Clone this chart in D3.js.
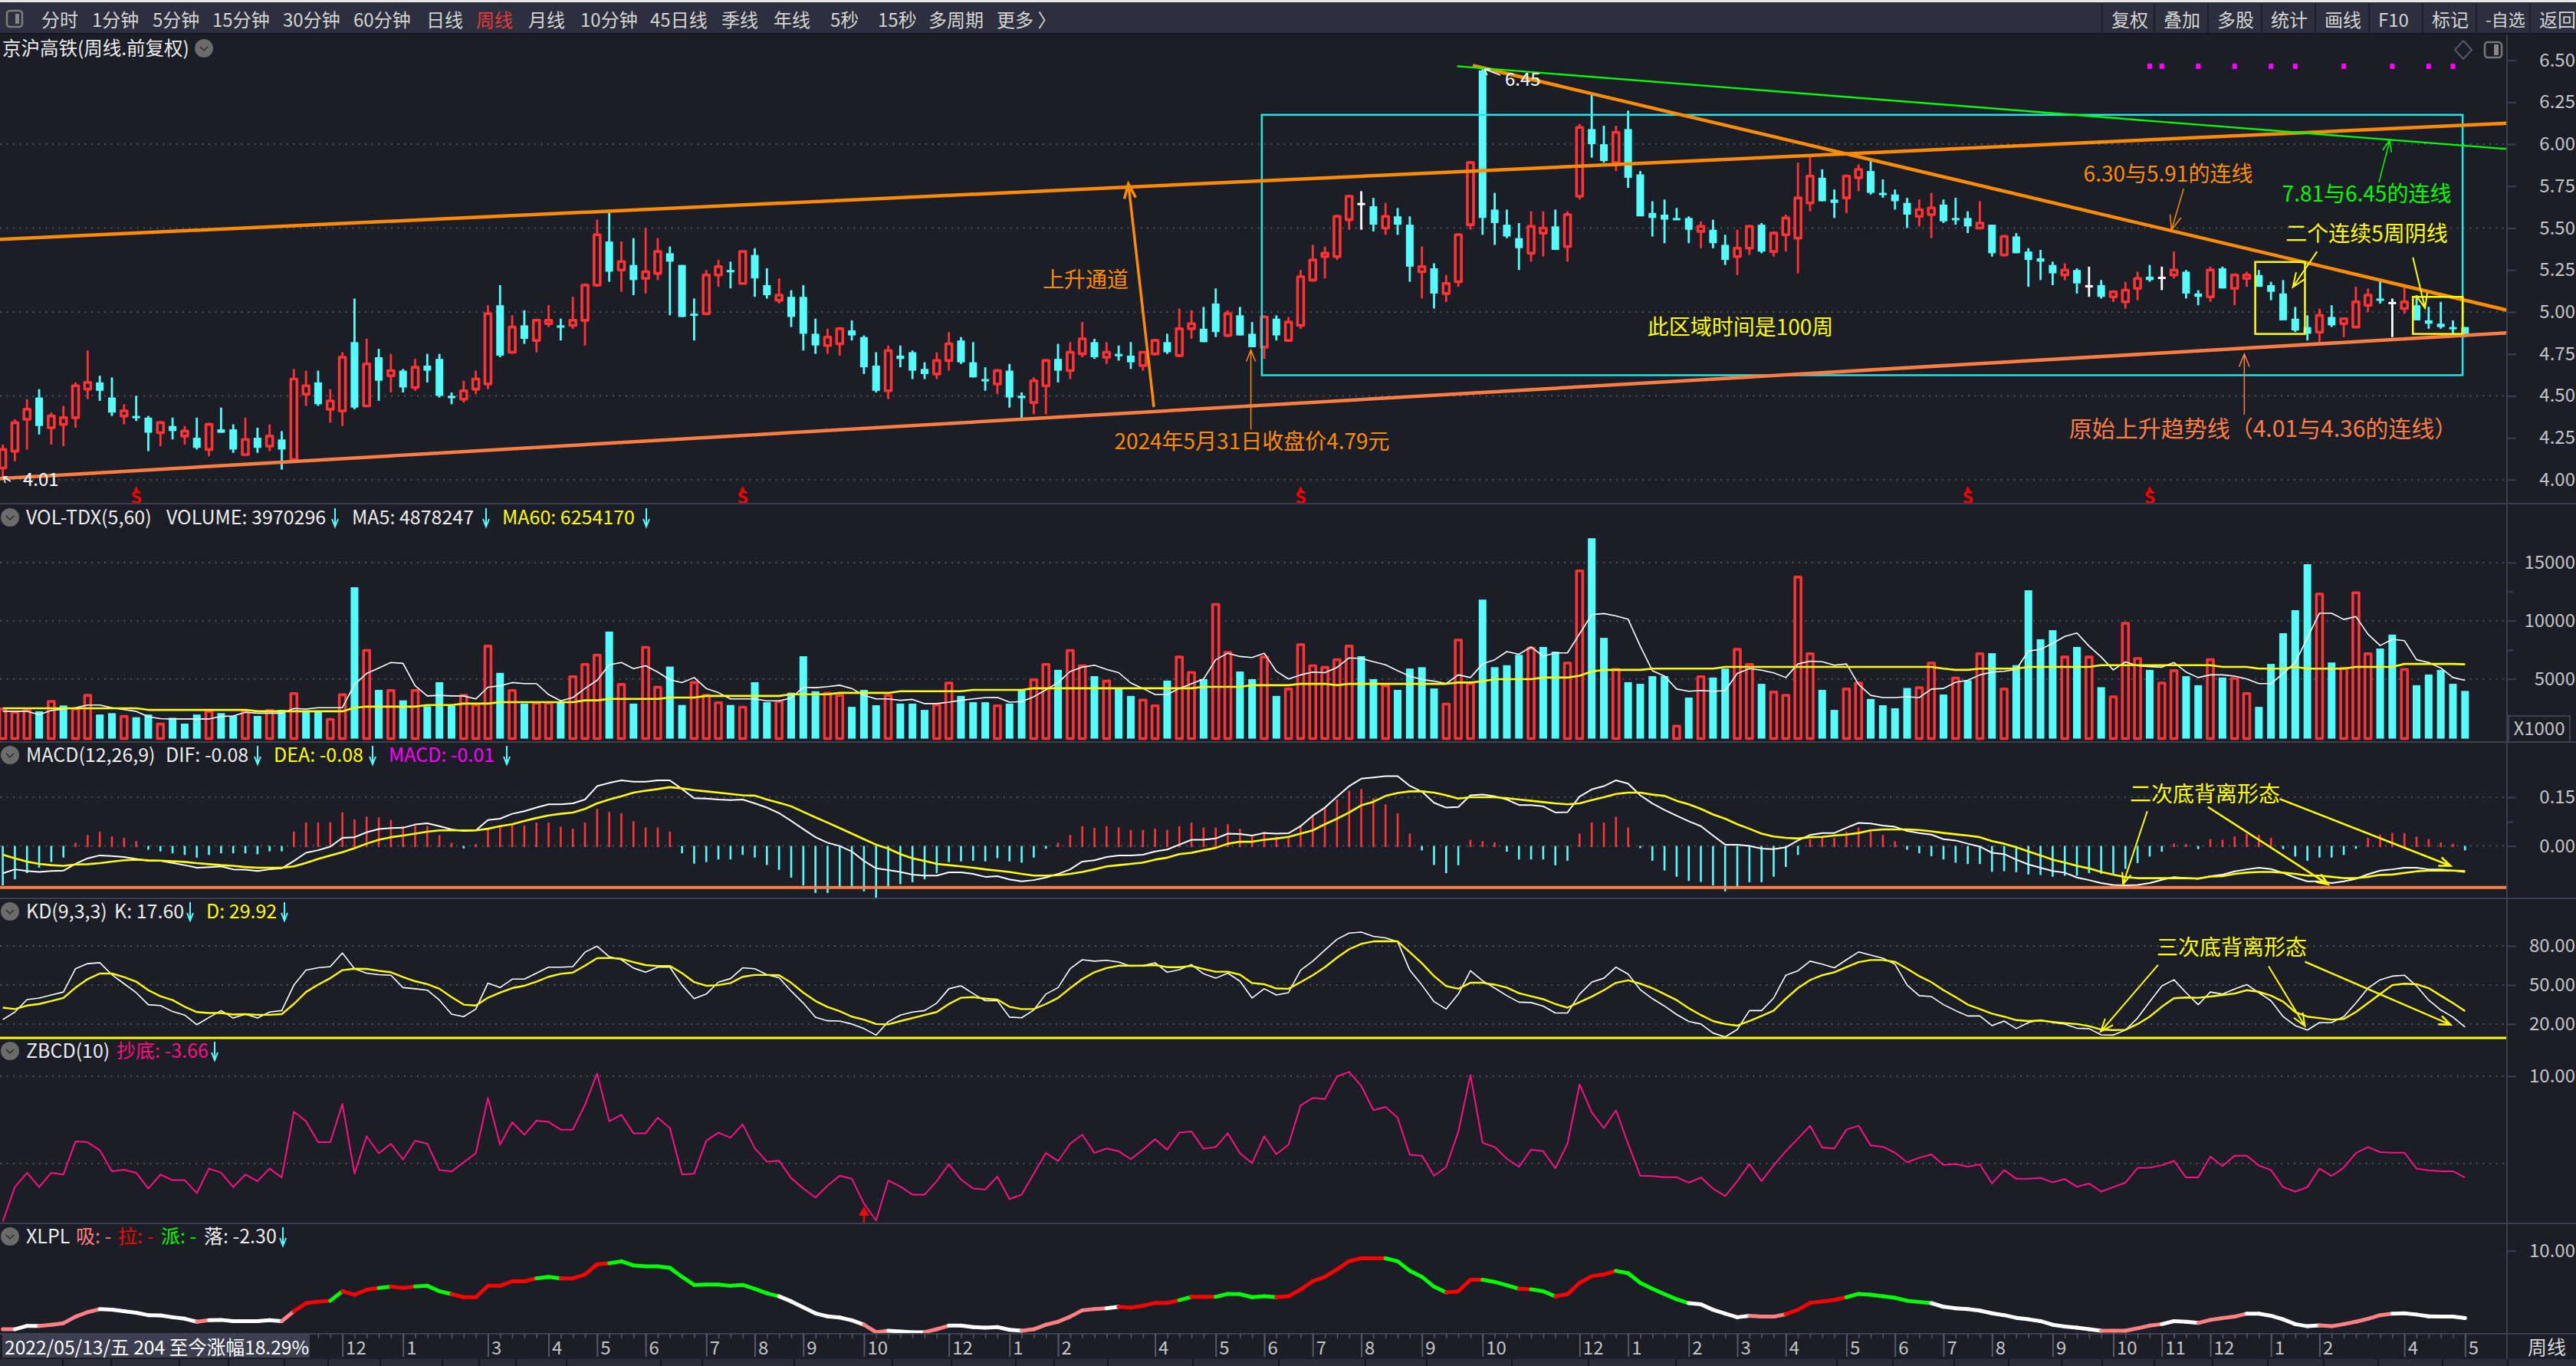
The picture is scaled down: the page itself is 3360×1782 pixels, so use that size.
<!DOCTYPE html>
<html>
<head>
<meta charset="utf-8">
<script src="https://cdn.jsdelivr.net/npm/d3@7"></script>
<style>
  html, body { margin: 0; padding: 0; background: #1b1e27; overflow: hidden; }
  svg { display: block; }
  text { font-family: "Noto Sans CJK SC", "Noto Sans", sans-serif; dominant-baseline: central; }
</style>
</head>
<body>
<div id="chart"></div>
<script>
// weekly bars, 2022/05/13 onward
const open = [
  4.07,4.17,4.36,4.49,4.31,4.33,4.37,4.54,4.58,4.49,
  4.38,4.38,4.37,4.28,4.32,4.26,4.25,4.18,4.30,4.30,
  4.15,4.25,4.20,4.24,4.12,4.51,4.58,4.42,4.41,4.82,
  4.44,4.73,4.62,4.65,4.55,4.68,4.72,4.50,4.48,4.54,
  4.57,5.04,4.76,4.92,4.83,4.93,4.92,4.92,4.95,5.16,
  5.42,5.25,5.28,5.20,5.23,5.35,5.28,4.99,4.99,5.22,
  5.25,5.17,5.34,5.16,5.07,5.09,5.09,4.87,4.80,4.81,
  4.89,4.85,4.68,4.53,4.74,4.76,4.66,4.63,4.71,4.83,
  4.70,4.60,4.57,4.65,4.50,4.46,4.56,4.72,4.65,4.75,
  4.82,4.73,4.75,4.74,4.68,4.75,4.82,4.74,4.90,4.90,
  5.05,4.86,4.98,4.87,4.79,4.96,4.83,4.92,5.19,5.33,
  5.33,5.55,5.65,5.63,5.50,5.57,5.52,5.24,5.26,5.11,
  5.18,5.52,6.44,5.61,5.52,5.44,5.35,5.47,5.51,5.39,
  5.69,6.09,6.00,5.89,6.09,5.82,5.59,5.58,5.56,5.56,
  5.48,5.49,5.40,5.33,5.38,5.52,5.36,5.46,5.44,5.65,
  5.80,5.67,5.68,5.80,5.84,5.71,5.70,5.65,5.57,5.58,
  5.64,5.56,5.56,5.50,5.52,5.34,5.45,5.36,5.32,5.28,
  5.22,5.25,5.16,5.16,5.09,5.06,5.14,5.21,5.21,5.22,
  5.24,5.11,5.09,5.26,5.14,5.20,5.22,5.16,5.11,4.96,
  4.91,4.88,4.97,4.93,4.91,5.04,5.08,5.06,5.02,5.04,
  4.95,4.93,4.91,4.91];
const high = [
  4.21,4.36,4.48,4.54,4.40,4.44,4.58,4.77,4.62,4.61,
  4.45,4.50,4.38,4.35,4.37,4.32,4.37,4.34,4.43,4.33,
  4.37,4.31,4.33,4.29,4.66,4.65,4.65,4.54,4.76,5.08,
  4.84,4.78,4.75,4.66,4.72,4.75,4.75,4.52,4.59,4.65,
  5.04,5.16,4.98,5.01,4.96,5.04,4.96,5.09,5.17,5.55,
  5.59,5.42,5.44,5.50,5.44,5.39,5.28,5.08,5.25,5.31,
  5.30,5.36,5.38,5.26,5.20,5.13,5.16,4.96,4.90,4.91,
  4.95,4.86,4.76,4.80,4.80,4.77,4.70,4.76,4.88,4.85,
  4.82,4.67,4.66,4.69,4.52,4.61,4.72,4.81,4.82,4.94,
  4.84,4.82,4.80,4.82,4.76,4.84,4.87,5.02,5.01,5.03,
  5.14,5.01,5.03,4.94,4.98,4.98,4.97,5.25,5.40,5.39,
  5.58,5.70,5.72,5.68,5.65,5.62,5.57,5.39,5.29,5.22,
  5.47,5.90,6.45,5.71,5.61,5.53,5.60,5.60,5.61,5.60,
  6.12,6.30,6.11,6.11,6.20,5.84,5.66,5.67,5.62,5.57,
  5.54,5.55,5.46,5.49,5.52,5.53,5.48,5.58,5.89,5.93,
  5.85,5.73,5.82,5.88,5.91,5.79,5.73,5.68,5.67,5.71,
  5.67,5.68,5.60,5.66,5.52,5.46,5.47,5.38,5.37,5.30,
  5.29,5.26,5.27,5.19,5.13,5.18,5.24,5.28,5.27,5.36,
  5.25,5.13,5.27,5.27,5.23,5.24,5.25,5.18,5.19,5.03,
  4.98,5.02,5.04,4.96,5.15,5.14,5.19,5.08,5.15,5.10,
  5.03,5.06,4.95,4.91];
const low = [
  4.01,4.11,4.18,4.27,4.21,4.20,4.31,4.48,4.47,4.38,
  4.33,4.35,4.17,4.20,4.24,4.21,4.18,4.14,4.28,4.16,
  4.15,4.16,4.17,4.06,4.11,4.44,4.44,4.34,4.32,4.42,
  4.44,4.47,4.52,4.52,4.53,4.58,4.49,4.45,4.46,4.51,
  4.54,4.73,4.75,4.81,4.76,4.91,4.83,4.90,4.80,5.15,
  5.18,5.12,5.10,5.11,5.19,4.98,4.97,4.83,4.98,5.15,
  5.14,5.17,5.09,5.08,5.05,4.91,4.77,4.75,4.75,4.74,
  4.83,4.63,4.52,4.48,4.67,4.60,4.60,4.60,4.65,4.69,
  4.61,4.53,4.51,4.43,4.36,4.39,4.39,4.58,4.60,4.73,
  4.72,4.69,4.71,4.66,4.65,4.74,4.75,4.73,4.84,4.82,
  4.85,4.85,4.86,4.79,4.72,4.83,4.83,4.90,5.18,5.20,
  5.31,5.49,5.49,5.48,5.46,5.46,5.18,5.08,5.02,5.06,
  5.15,5.49,5.46,5.40,5.44,5.25,5.30,5.33,5.37,5.30,
  5.67,5.92,5.89,5.84,5.74,5.57,5.45,5.41,5.55,5.41,
  5.38,5.38,5.28,5.22,5.34,5.35,5.33,5.36,5.23,5.60,
  5.66,5.56,5.59,5.72,5.70,5.68,5.61,5.50,5.51,5.44,
  5.53,5.52,5.47,5.50,5.33,5.33,5.35,5.15,5.19,5.16,
  5.19,5.11,5.09,5.08,5.06,5.02,5.07,5.18,5.13,5.20,
  5.08,5.04,5.06,5.14,5.04,5.15,5.15,5.07,4.95,4.88,
  4.83,4.82,4.91,4.85,4.91,5.00,5.05,4.85,4.99,4.95,
  4.90,4.90,4.87,4.85];
const close = [
  4.18,4.34,4.42,4.32,4.38,4.37,4.56,4.58,4.53,4.40,
  4.41,4.37,4.28,4.34,4.29,4.29,4.19,4.33,4.28,4.18,
  4.24,4.19,4.26,4.18,4.60,4.56,4.45,4.47,4.73,4.43,
  4.69,4.59,4.65,4.55,4.67,4.65,4.50,4.49,4.53,4.60,
  4.99,4.74,4.91,4.84,4.95,4.95,4.91,4.95,5.16,5.46,
  5.24,5.30,5.19,5.24,5.36,5.30,4.97,4.98,5.22,5.27,
  5.24,5.36,5.20,5.10,5.10,4.97,4.87,4.80,4.85,4.90,
  4.86,4.67,4.53,4.77,4.72,4.65,4.63,4.71,4.81,4.70,
  4.61,4.59,4.65,4.49,4.49,4.59,4.71,4.65,4.76,4.84,
  4.73,4.76,4.74,4.70,4.76,4.83,4.76,4.90,4.93,4.82,
  4.88,4.99,4.86,4.79,4.97,4.86,4.94,5.21,5.31,5.35,
  5.57,5.69,5.65,5.52,5.57,5.52,5.27,5.27,5.11,5.17,
  5.46,5.89,5.56,5.53,5.45,5.38,5.51,5.50,5.37,5.58,
  6.10,6.00,5.90,6.07,5.80,5.57,5.56,5.55,5.55,5.49,
  5.51,5.41,5.31,5.38,5.51,5.36,5.47,5.56,5.68,5.81,
  5.66,5.65,5.81,5.85,5.71,5.70,5.66,5.58,5.61,5.62,
  5.54,5.55,5.51,5.53,5.35,5.45,5.35,5.31,5.30,5.23,
  5.25,5.17,5.16,5.09,5.12,5.13,5.20,5.19,5.21,5.25,
  5.11,5.09,5.25,5.14,5.22,5.22,5.15,5.12,4.95,4.89,
  4.87,4.98,4.92,4.96,5.06,5.10,5.07,5.06,5.06,4.95,
  4.93,4.91,4.90,4.87];

// volume, x1000
const volume = [
  2410,2130,2290,2220,3070,2720,2410,3590,1940,2060,
  1780,1710,1940,1120,1660,1160,1940,2220,2060,1820,
  2220,1820,2290,2340,3750,2290,2180,1520,3640,12880,
  7450,4060,4010,3160,4010,2650,4720,2690,3590,2760,
  7820,5520,4010,2880,2930,2930,3070,5190,6250,7050,
  9070,4530,2880,7710,4290,6060,2760,4690,3590,2950,
  2760,2580,4720,3000,3050,3820,6950,3940,3780,3590,
  2600,4060,2740,3590,2880,2880,2340,2760,4650,3540,
  3000,3000,2690,2880,4060,4930,6250,5780,7450,6130,
  5240,4810,4180,3540,3190,2690,4860,6880,5560,4980,
  11400,7280,5640,4980,6880,3540,4130,7940,6130,5990,
  6650,7820,6950,4980,4410,4060,5890,6010,4180,2840,
  8340,4600,11820,6010,6180,7070,7640,7750,7350,6360,
  14290,17090,8530,5820,4720,4580,5240,5240,950,3400,
  5190,5120,5890,7540,6250,4580,3870,3590,13750,7160,
  4060,2340,4130,4650,3280,2740,2480,4220,4250,6360,
  3660,5070,4880,7160,7210,4130,6180,12620,8410,9190,
  6880,7750,6880,4290,3470,9780,6760,5780,4650,5710,
  5240,4460,6650,5120,5050,3750,2600,6290,8930,10910,
  14860,12290,6410,5940,12410,7160,7610,8810,5820,4460,
  5380,5780,4580,3970];
const volumeDir =
  "rrrcrcrrcc" + "rccrcccrcc" + "rcrcrccrrc" + "rcrcrcccrr" + "rcrcrrcrrr" +
  "crcrrccrrr" + "crccrcccrr" + "cccrcccrrc" + "ccrccrrcrr" + "crccrrcrrc" +
  "rrccrcrrrr" + "rrccrccccr" + "rrccccrccr" + "rccrccccrc" + "rccrrcrrrr" +
  "ccrrccccrr" + "crcrcrcccc" + "rcrcrrrcrr" + "ccrcrrcccc" + "crcrrrccrc" + "cccc";
const ma5 = [
  2220,2220,2220,1940,2290,2410,2530,2760,2760,2530,
  2360,2220,1750,1590,1560,1560,1560,1560,1780,1820,
  2130,2060,2060,2060,2460,2410,2530,2530,2530,4530,
  5470,5940,6410,6340,4410,3540,3590,3540,3540,3280,
  4290,4410,4690,4600,4600,3660,3120,3400,4180,4880,
  6220,6410,5890,6130,5590,4930,4690,5120,4180,3820,
  3280,3280,3280,3120,3120,3350,4290,4250,4340,4460,
  4180,3590,3280,3280,3160,3240,2880,2880,3000,3160,
  3280,3400,3420,3000,3050,3470,4060,4690,5640,6010,
  6180,5820,5540,4650,4180,3660,3660,4180,4580,5000,
  6650,7210,6930,6840,7210,5660,5000,5350,5590,5540,
  5990,6810,6760,6480,6220,5710,5240,4950,4810,4600,
  5350,5120,6290,6650,7350,7120,7750,6950,7240,7240,
  8880,10530,10620,10410,10130,7820,5710,5240,4130,3940,
  4010,3940,3990,5470,5890,5750,5520,5120,6290,6530,
  6480,6180,6290,4530,3590,3400,3400,3470,3400,4130,
  4180,4720,4880,5350,5590,5660,5820,7400,7540,8060,
  8650,8950,7820,6880,5780,6460,6130,6060,6010,6410,
  5590,5120,5350,5350,5240,5000,4600,4600,5470,6410,
  8530,10650,10650,10110,10370,8840,7870,8410,8290,6650,
  6410,5940,5120,4878];
const ma60 = [
  2480,2480,2480,2480,2480,2480,2480,2480,2480,2480,
  2480,2480,2340,2340,2340,2340,2340,2340,2340,2340,
  2340,2220,2220,2220,2220,2220,2220,2220,2220,2530,
  2620,2620,2620,2620,2620,2760,2760,2760,2880,2880,
  2880,3000,3000,3000,3000,3000,3000,3000,3160,3160,
  3280,3280,3280,3280,3280,3400,3400,3400,3540,3540,
  3540,3540,3540,3540,3540,3680,3680,3680,3680,3800,
  3800,3800,3800,3800,3940,3940,3940,3940,3940,3940,
  4060,4060,4060,4060,4060,4200,4200,4200,4200,4200,
  4200,4200,4200,4200,4200,4200,4200,4200,4200,4320,
  4320,4320,4320,4460,4460,4460,4460,4580,4580,4580,
  4460,4580,4580,4580,4580,4580,4580,4580,4580,4580,
  4690,4690,4800,4980,4980,4980,4980,5120,5120,5120,
  5280,5640,5780,5780,5780,5780,5890,5890,5890,5890,
  5890,5890,6030,6030,6030,6030,6030,6030,6030,6030,
  6030,6030,6030,6030,6030,6030,6030,6030,6030,6030,
  5890,5780,5780,5890,5890,5890,5890,6030,6030,6030,
  6030,6030,6030,6180,6180,6180,6180,6180,6180,6180,
  6180,6180,6180,6030,6030,6030,5890,5890,5890,6030,
  5890,5890,5890,5890,6030,6030,6030,6030,6290,6290,
  6290,6290,6290,6254];

const dif = [
  -.084,-.072,-.077,-.080,-.077,-.076,-.055,-.038,-.029,-.031,
  -.034,-.040,-.046,-.046,-.052,-.059,-.067,-.065,-.063,-.072,
  -.073,-.077,-.072,-.069,-.046,-.021,-.013,-.002,.025,.027,
  .042,.052,.055,.056,.066,.070,.061,.051,.046,.048,
  .080,.084,.099,.107,.118,.128,.128,.131,.143,.184,
  .194,.202,.198,.198,.202,.202,.175,.147,.146,.143,
  .141,.143,.131,.118,.101,.077,.052,.027,.010,0,
  -.017,-.046,-.069,-.074,-.080,-.088,-.091,-.091,-.081,-.081,
  -.086,-.095,-.093,-.103,-.109,-.105,-.097,-.086,-.072,-.048,
  -.044,-.034,-.029,-.029,-.027,-.017,-.011,.004,.019,.019,
  .023,.038,.037,.032,.040,.038,.039,.061,.093,.118,
  .152,.184,.207,.211,.215,.215,.185,.167,.133,.118,
  .120,.156,.158,.153,.143,.126,.126,.122,.103,.104,
  .152,.174,.184,.202,.192,.156,.131,.111,.093,.076,
  .061,.032,.004,.004,0,-.008,-.010,-.004,.017,.034,
  .040,.040,.056,.071,.069,.063,.059,.046,.040,.035,
  .021,.017,.007,-.002,-.021,-.025,-.042,-.057,-.067,-.077,
  -.082,-.097,-.105,-.114,-.120,-.121,-.120,-.114,-.104,-.096,
  -.099,-.101,-.093,-.088,-.078,-.072,-.067,-.071,-.083,-.097,
  -.109,-.109,-.114,-.109,-.101,-.087,-.076,-.072,-.067,-.067,
  -.072,-.072,-.076,-.080];
const dea = [
  -.027,-.038,-.048,-.055,-.059,-.061,-.057,-.056,-.053,-.048,
  -.044,-.042,-.044,-.045,-.047,-.049,-.053,-.056,-.059,-.061,
  -.065,-.067,-.067,-.067,-.063,-.052,-.040,-.029,-.019,-.007,
  .007,.019,.027,.032,.038,.044,.048,.048,.048,.048,
  .053,.061,.067,.077,.086,.094,.099,.103,.114,.131,
  .143,.153,.164,.170,.175,.181,.177,.172,.168,.164,
  .160,.156,.155,.143,.133,.122,.105,.088,.072,.055,
  .038,.021,.004,-.008,-.025,-.038,-.046,-.055,-.059,-.063,
  -.067,-.072,-.076,-.080,-.086,-.091,-.091,-.090,-.086,-.080,
  -.072,-.063,-.059,-.055,-.051,-.042,-.036,-.025,-.021,-.013,
  -.006,.007,.013,.013,.019,.023,.028,.038,.048,.067,
  .084,.103,.125,.136,.154,.163,.168,.168,.164,.156,
  .146,.150,.150,.150,.147,.143,.139,.135,.131,.128,
  .131,.141,.150,.160,.164,.164,.158,.154,.139,.128,
  .114,.097,.084,.067,.053,.038,.029,.025,.023,.027,
  .028,.032,.035,.040,.048,.051,.051,.051,.049,.045,
  .040,.036,.032,.027,.015,.007,-.004,-.017,-.029,-.042,
  -.051,-.061,-.069,-.080,-.088,-.096,-.099,-.099,-.099,-.099,
  -.099,-.100,-.094,-.093,-.086,-.082,-.080,-.080,-.082,-.086,
  -.091,-.091,-.095,-.099,-.099,-.095,-.089,-.088,-.083,-.078,
  -.076,-.076,-.076,-.077];
const macd = [
  -.118,-.099,-.080,-.063,-.046,-.032,.010,.034,.044,.029,
  .025,.015,-.008,-.013,-.019,-.024,-.032,-.024,-.019,-.019,
  -.019,-.022,-.013,-.013,.044,.072,.072,.073,.104,.082,
  .090,.088,.080,.061,.063,.061,.034,.010,-.004,.006,
  .051,.061,.067,.063,.072,.072,.059,.053,.072,.114,
  .105,.101,.076,.057,.057,.044,-.019,-.051,-.046,-.038,
  -.038,-.024,-.032,-.055,-.070,-.094,-.118,-.141,-.141,-.126,
  -.126,-.136,-.156,-.126,-.114,-.108,-.099,-.080,-.046,-.044,
  -.042,-.044,-.034,-.044,-.048,-.032,-.005,.010,.034,.061,
  .056,.061,.057,.049,.049,.053,.049,.061,.072,.057,
  .057,.067,.053,.034,.044,.029,.028,.063,.095,.116,
  .143,.170,.175,.147,.128,.101,.038,-.010,-.055,-.080,
  -.056,.019,.015,.011,-.014,-.038,-.038,-.038,-.056,-.042,
  .038,.072,.072,.090,.057,-.003,-.042,-.072,-.091,-.104,
  -.107,-.118,-.136,-.125,-.108,-.108,-.091,-.061,-.024,.021,
  .025,.025,.044,.057,.044,.034,.015,-.008,-.019,-.028,
  -.038,-.048,-.052,-.052,-.076,-.074,-.077,-.084,-.086,-.091,
  -.088,-.088,-.080,-.082,-.082,-.067,-.049,-.029,-.014,.008,
  .006,-.006,.021,.019,.029,.038,.034,.025,-.006,-.029,
  -.042,-.032,-.032,-.024,-.005,.025,.035,.040,.040,.029,
  .021,.011,.007,-.010];

const kdK = [
  23.4,29.2,38.8,40.0,42.3,44.6,62.5,66.4,67.1,57.9,
  51.0,44.1,34.9,34.2,29.6,26.9,19.5,25.0,30.3,24.6,
  27.6,24.6,29.2,30.3,49.9,61.4,63.2,64.1,74.5,62.5,
  59.1,57.9,57.5,48.0,47.1,46.0,38.4,27.6,25.7,31.5,
  51.5,48.0,54.5,54.5,59.1,63.7,63.7,64.1,75.2,79.8,
  71.7,69.4,63.0,59.8,63.7,63.7,49.9,39.5,43.0,52.2,
  54.9,63.2,62.5,57.9,55.6,45.3,36.1,25.3,22.5,22.3,
  20.0,16.5,11.5,21.8,26.9,29.2,30.3,36.1,47.1,49.4,
  43.4,37.9,37.9,25.3,24.8,30.8,43.0,48.0,62.5,69.4,
  68.3,69.0,67.6,64.4,64.8,67.1,59.8,61.8,65.7,58.6,
  55.2,59.1,52.9,40.0,47.1,42.3,44.1,61.4,68.3,76.8,
  85.1,89.9,90.6,87.4,86.2,83.2,61.4,49.9,37.2,31.5,
  43.0,60.9,53.3,47.6,41.8,36.8,36.5,33.8,28.5,28.5,
  43.0,52.2,55.2,63.7,58.4,46.4,39.5,33.8,27.3,22.0,
  20.0,13.1,10.1,15.8,30.3,30.3,40.0,57.5,60.9,68.3,
  66.0,63.2,69.4,75.4,72.9,70.6,66.0,49.9,41.8,41.1,
  34.9,30.3,26.2,26.2,18.8,22.3,16.5,21.1,23.2,21.1,
  20.0,16.8,16.5,11.7,11.5,15.4,24.6,37.2,49.2,54.0,
  44.1,34.9,44.6,43.0,46.9,50.3,44.1,37.9,25.7,18.8,
  15.4,21.1,21.1,25.7,36.1,47.6,54.0,56.8,57.5,49.2,
  38.4,30.8,25.3,17.6];
const kdD = [
  32.6,31.5,34.2,35.4,37.7,40.0,48.0,54.5,58.8,58.8,
  56.1,52.6,46.0,41.4,38.4,33.3,29.2,28.5,28.5,27.3,
  27.6,27.1,27.1,27.6,35.4,44.6,50.3,55.2,61.4,62.5,
  62.3,60.9,59.8,56.1,52.9,50.6,47.1,40.7,34.9,34.2,
  40.2,44.1,47.6,49.4,52.6,56.3,58.6,59.5,64.8,70.6,
  70.8,70.1,67.6,65.3,64.6,64.6,59.1,52.2,49.4,49.9,
  51.5,56.3,57.7,57.7,57.5,51.7,44.1,37.7,33.1,29.9,
  25.7,23.4,20.0,19.7,22.3,24.6,26.9,29.2,35.4,40.2,
  40.7,39.5,38.8,33.3,31.5,31.5,35.4,40.0,47.6,54.5,
  59.8,63.0,64.8,64.8,64.8,65.3,63.7,63.7,64.6,62.3,
  60.2,60.2,57.9,51.5,50.6,47.3,47.1,52.2,57.5,63.7,
  71.0,77.5,81.6,83.5,83.7,83.5,75.2,66.7,56.8,49.2,
  47.1,51.7,51.7,50.3,48.0,43.7,41.4,39.1,35.4,32.6,
  36.8,41.1,46.0,51.7,53.6,51.0,47.6,43.0,38.4,32.2,
  26.9,22.3,20.0,18.8,22.3,26.2,30.3,39.5,47.6,53.8,
  57.5,59.8,63.7,67.6,69.2,69.2,67.8,62.5,56.8,52.2,
  46.0,40.7,34.9,31.5,28.0,25.7,23.0,22.3,22.7,21.6,
  20.7,20.0,18.4,15.8,15.4,15.6,20.0,25.7,33.3,39.8,
  40.4,40.2,41.1,42.3,43.4,46.0,44.8,41.8,37.2,29.2,
  25.7,24.6,23.4,23.9,29.2,36.1,43.0,49.9,51.0,50.6,
  47.6,41.8,36.1,29.92];

const zbcd = [
  -9.59,-4.95,-3.02,-4.95,-3.02,-3.26,1.21,1.09,0.01,-2.82,
  -2.61,-3.02,-5.15,-3.26,-4.02,-4.02,-5.76,-2.45,-3.02,-4.95,
  -3.26,-4.15,-2.45,-3.66,5.20,3.91,1.09,1.09,6.25,-3.14,
  1.90,-0.40,0.89,-1.24,1.30,0.89,-2.65,-2.86,-1.61,-0.40,
  7.06,0.77,3.79,2.10,3.99,3.83,2.79,2.79,6.13,10.36,
  3.91,4.80,2.30,2.30,4.40,2.99,-3.26,-3.14,1.30,2.38,
  1.70,3.51,0.29,-1.53,-1.40,-3.74,-5.15,-6.36,-4.75,-3.42,
  -3.82,-7.17,-9.46,-4.06,-4.87,-5.96,-5.96,-4.15,-1.85,-3.94,
  -5.15,-5.27,-3.54,-6.56,-5.96,-3.14,-0.36,-1.45,0.89,2.10,
  -0.36,0.25,-0.12,-1.20,0.09,1.50,0.09,2.38,2.54,0.21,
  0.45,2.30,-0.40,-1.73,1.90,-0.52,0.77,6.05,7.06,6.90,
  9.96,10.56,8.67,5.41,5.85,4.40,-0.60,-0.72,-3.42,-2.25,
  2.50,10.16,1.01,0.45,-1.12,-2.21,0.09,-0.12,-2.41,0.89,
  8.87,5.12,2.99,5.41,0.89,-3.42,-3.46,-3.62,-3.62,-4.35,
  -3.66,-5.15,-6.16,-4.15,-1.85,-4.15,-2.01,-0.12,1.58,3.31,
  0.37,0.25,2.79,3.31,0.65,0.49,-0.32,-1.61,-1.00,-0.56,
  -1.97,-1.85,-2.21,-1.89,-4.47,-2.65,-3.82,-3.82,-3.70,-4.31,
  -3.86,-4.91,-4.47,-5.56,-4.95,-4.35,-2.37,-2.33,-2.01,-1.40,
  -3.66,-3.66,-0.84,-2.13,-0.72,-0.72,-2.05,-2.65,-4.95,-5.56,
  -4.95,-2.45,-3.46,-2.33,-0.36,0.45,-0.24,-0.32,-0.32,-2.45,
  -2.69,-2.82,-2.82,-3.66];

const xlpl = [
  -4.32,-4.32,-3.71,-3.71,-3.50,-3.22,-2.02,-1.20,-0.65,-0.76,
  -1.04,-1.31,-1.75,-1.80,-2.13,-2.40,-2.95,-2.68,-2.62,-2.84,
  -2.84,-2.84,-2.68,-2.84,-1.04,0.44,0.71,0.88,2.62,1.97,
  2.90,3.22,3.44,3.22,3.50,3.61,2.62,2.08,1.53,1.53,
  3.61,3.61,4.43,4.43,4.97,5.25,4.97,4.97,5.68,7.54,
  7.71,8.09,7.32,7.16,7.16,6.89,5.25,3.77,3.83,3.83,
  3.61,3.77,3.06,2.24,1.69,0.77,-0.33,-1.42,-1.97,-2.18,
  -2.68,-3.50,-4.86,-4.59,-4.75,-4.86,-4.86,-4.32,-3.66,-3.66,
  -3.93,-4.04,-3.93,-4.42,-4.59,-4.32,-3.50,-2.95,-2.02,-0.87,
  -0.65,-0.49,-0.22,-0.38,-0.05,0.49,0.49,0.98,1.59,1.59,
  1.59,2.13,2.08,1.53,1.69,1.53,1.69,2.95,4.43,5.25,
  6.61,8.09,8.63,8.63,8.63,8.09,6.34,5.25,3.44,2.40,
  2.62,4.70,4.70,4.32,3.72,3.06,2.95,2.62,1.69,2.08,
  4.15,5.36,5.68,6.34,5.90,4.15,3.06,2.08,1.15,0.44,
  0.22,-0.76,-1.47,-2.13,-1.86,-2.02,-2.02,-1.58,-0.76,0.49,
  0.77,1.04,1.53,2.13,1.97,1.69,1.42,0.88,0.66,0.44,
  -0.22,-0.49,-0.65,-0.93,-1.42,-1.75,-2.24,-2.51,-2.84,-3.50,
  -3.82,-4.04,-4.32,-4.59,-4.59,-4.59,-4.15,-3.66,-3.39,-2.84,
  -2.95,-3.17,-2.62,-2.29,-2.02,-1.47,-1.47,-1.86,-2.51,-3.39,
  -3.77,-3.61,-3.77,-3.39,-2.95,-2.40,-1.75,-1.47,-1.42,-1.64,
  -1.97,-2.02,-2.02,-2.30];
// p = 吸, r = 拉, g = 派, w = 落
const xlplState =
  "wpwwpppppw" + "wwwwwwwpww" + "wwwwprrrgr" + "rrgrrgggrr" + "rrrrrggrrr" +
  "rggggggggg" + "gggggwwwww" + "wwppwwwppw" + "wwwwwppppp" + "ppwrrrrrgr" +
  "rgggggrrrr" + "rrrrrggggg" + "rrrgggrggr" + "rrrrgggggg" + "wwwwwppprr" +
  "rrrggggggg" + "wwwwwwwwww" + "wwwwpppppw" + "wwppppwwww" + "wwppppppww" + "wwww";

// month labels on the time axis
const monthBars = [28,33,40,45,49,53,58,62,66,71,78,83,87,95,100,104,108,112,117,122,130,134,139,143,147,152,156,160,164,169,174,178,182,187,191,198,203];
const monthNames = ["12","1","3","4","5","6","7","8","9","10","12","1","2","4","5","6","7","8","9","10","12","1","2","3","4","5","6","7","8","9","10","11","12","1","2","4","5"];

const priceTicks = [4,4.25,4.5,4.75,5,5.25,5.5,5.75,6,6.25,6.5];
const priceGrid = [4,4.5,5,5.5,6];
const sBars = [11,61,107,162,177];
const magentaBars = [177,178,181,184,187,189,193,197,200,202];

// drawn lines: [bar, price] pairs
const channelTop = [[-0.23,5.433],[206.5,6.125]];
const channelBottom = [[-0.23,4.007],[206.5,4.875]];
const lineDown = [[121.2,6.469],[206.5,5.010]];
const lineGreen = [[119.9,6.465],[206.5,5.971]];

const W = 3360, H = 1782, AXIS_X = 3270;
const RED = "#ff3333", CYAN = "#54fcfc", BG = "#1b1e27", LINE = "#3b404d", DOT = "#4d525e";
const ORANGE = "#ff8c00", CORAL = "#ff7d40", YELLOW = "#ffff00", GREEN = "#00ff00";

const x = d3.scaleLinear().domain([0, 203]).range([3.6, 3215.3]);
const yPrice = d3.scaleLinear().domain([4, 6]).range([625.8, 188.1]);
const yVol = d3.scaleLinear().domain([0, 15000]).range([961.6, 733.9]);
const yMacd = d3.scaleLinear().domain([0, 0.15]).range([1103.6, 1040]);
const yKd = d3.scaleLinear().domain([20, 80]).range([1335.9, 1234]);
const yZbcd = d3.scaleLinear().domain([-1.77, 10]).range([1517.8, 1403.8]);
const yXlpl = d3.scaleLinear().domain([-2.3, 10]).range([1719.6, 1631.7]);

const svg = d3.select("#chart").append("svg").attr("width", W).attr("height", H);
const bars = d3.range(204);

svg.append("defs").append("clipPath").attr("id", "pane")
  .append("rect").attr("x", 0).attr("y", 44).attr("width", AXIS_X).attr("height", H);

svg.append("rect").attr("width", W).attr("height", H).attr("fill", BG);

const addGrid = (scale, values) => {
  svg.append("g").selectAll("line").data(values).enter().append("line")
    .attr("x1", 0).attr("x2", AXIS_X)
    .attr("y1", d => scale(d)).attr("y2", d => scale(d))
    .attr("stroke", DOT).attr("stroke-width", 2).attr("stroke-dasharray", "2 6.5");
};

const addYAxis = (scale, labelled, fmt, minor) => {
  const g = svg.append("g").attr("transform", `translate(${AXIS_X},0)`).attr("class", "y-axis");
  if (minor) {
    g.append("g").call(d3.axisRight(scale).tickValues(minor).tickSize(8).tickFormat(""))
      .call(s => s.select(".domain").remove())
      .selectAll("line").attr("stroke", LINE).attr("stroke-width", 2);
  }
  const a = g.append("g").call(d3.axisRight(scale).tickValues(labelled).tickSize(12).tickFormat(fmt));
  a.select(".domain").remove();
  a.selectAll("line").attr("stroke", LINE).attr("stroke-width", 2);
  a.selectAll("text")
    .attr("y", -3).attr("dy", 0).attr("text-anchor", "start")
    .attr("fill", "#c4c4c4").attr("font-size", 24)
    .style("font-family", '"Noto Sans CJK SC"')
    .attr("x", function () { return 89 - this.getComputedTextLength(); });
};

const addLine = (parent, data, scale, color, width) => {
  parent.append("path")
    .attr("d", d3.line().x((d, i) => x(i)).y(d => scale(d))(data))
    .attr("fill", "none").attr("stroke", color).attr("stroke-width", width)
    .attr("stroke-linejoin", "round");
};

// open-headed arrow between two data points
const addArrow = (parent, from, to, scale, color, width, head) => {
  const x1 = x(from[0]), y1 = scale(from[1]), x2 = x(to[0]), y2 = scale(to[1]);
  const a = Math.atan2(y2 - y1, x2 - x1);
  const h = head || 16;
  const p = d3.path();
  p.moveTo(x1, y1); p.lineTo(x2, y2);
  p.moveTo(x2 - h * Math.cos(a - 0.38), y2 - h * Math.sin(a - 0.38));
  p.lineTo(x2, y2);
  p.lineTo(x2 - h * Math.cos(a + 0.38), y2 - h * Math.sin(a + 0.38));
  parent.append("path").attr("d", p.toString()).attr("fill", "none")
    .attr("stroke", color).attr("stroke-width", width);
};

const addSeg = (parent, pts, scale, color, width) => {
  parent.append("line")
    .attr("x1", x(pts[0][0])).attr("y1", scale(pts[0][1]))
    .attr("x2", x(pts[1][0])).attr("y2", scale(pts[1][1]))
    .attr("stroke", color).attr("stroke-width", width);
};

const addBox = (parent, bar0, bar1, p0, p1, color) => {
  parent.append("rect")
    .attr("x", x(bar0)).attr("width", x(bar1) - x(bar0))
    .attr("y", yPrice(p0)).attr("height", yPrice(p1) - yPrice(p0))
    .attr("fill", "none").attr("stroke", color).attr("stroke-width", 2.5);
};

// the CJK face sits low with a central baseline, hence the -2
const addText = (px, py, str, color, size, anchor, weight) => {
  return svg.append("text").attr("x", px).attr("y", py - 2).text(str)
    .attr("fill", color).attr("font-size", size || 24)
    .attr("text-anchor", anchor || "start").attr("font-weight", weight || 400);
};

const addDownArrow = (px, py) => {
  const p = d3.path();
  p.moveTo(px, py - 12); p.lineTo(px, py + 12);
  p.moveTo(px - 4, py + 2); p.lineTo(px, py + 12); p.lineTo(px + 4, py + 2);
  svg.append("path").attr("d", p.toString()).attr("fill", "none").attr("stroke", CYAN).attr("stroke-width", 2);
};

const addChevron = (px, py) => {
  svg.append("circle").attr("cx", px).attr("cy", py).attr("r", 12).attr("fill", "#6b6b6b");
  svg.append("path").attr("d", `M${px - 5},${py - 2}L${px},${py + 3}L${px + 5},${py - 2}`)
    .attr("fill", "none").attr("stroke", "#2a2a2a").attr("stroke-width", 1.5);
};

// ---- grids
addGrid(yPrice, priceGrid);
addGrid(yVol, [5000, 10000, 15000]);
addGrid(yMacd, [0, 0.15]);
addGrid(yKd, [20, 50, 80]);
addGrid(yZbcd, [-1.77, 10]);

// ---- candles
const candles = svg.append("g").attr("class", "candles");
const candleColor = i => close[i] > open[i] ? RED : close[i] < open[i] ? CYAN : "#ffffff";
candles.selectAll("line").data(bars).enter().append("line")
  .attr("x1", i => x(i)).attr("x2", i => x(i))
  .attr("y1", i => yPrice(high[i])).attr("y2", i => yPrice(low[i]))
  .attr("stroke", candleColor).attr("stroke-width", 2.8);
candles.selectAll("rect").data(bars).enter().append("rect")
  .attr("x", i => x(i) - (close[i] > open[i] ? 4 : 5))
  .attr("width", i => close[i] > open[i] ? 8 : 10)
  .attr("y", i => yPrice(Math.max(open[i], close[i])))
  .attr("height", i => Math.max(close[i] > open[i] ? 1 : 3, Math.abs(yPrice(open[i]) - yPrice(close[i]))))
  .attr("fill", i => close[i] > open[i] ? BG : candleColor(i))
  .attr("stroke", i => close[i] > open[i] ? RED : "none")
  .attr("stroke-width", 3.6).attr("stroke-linejoin", "round");

// ---- price panel drawings
const marks = svg.append("g").attr("clip-path", "url(#pane)");
addBox(marks, 103.8, 202.8, 6.175, 4.623, "#24e4e6");
addSeg(marks, channelTop, yPrice, ORANGE, 4.5);
addSeg(marks, channelBottom, yPrice, CORAL, 4.5);
addSeg(marks, lineDown, yPrice, ORANGE, 4.5);
addSeg(marks, lineGreen, yPrice, GREEN, 2.4);
addBox(marks, 185.7, 189.8, 5.298, 4.869, YELLOW);
addBox(marks, 198.7, 202.8, 5.09, 4.869, YELLOW);
addArrow(marks, [94.9, 4.433], [92.8, 5.763], yPrice, ORANGE, 3.5, 20);
addArrow(marks, [102.9, 4.298], [102.9, 4.773], yPrice, ORANGE, 1.5, 16);
addArrow(marks, [179.8, 5.735], [178.8, 5.490], yPrice, ORANGE, 1.5, 20);
addArrow(marks, [195.9, 5.773], [196.8, 6.023], yPrice, GREEN, 1.5, 16);
addArrow(marks, [190.8, 5.360], [188.8, 5.148], yPrice, YELLOW, 2, 20);
addArrow(marks, [198.7, 5.325], [199.7, 5.023], yPrice, YELLOW, 2, 20);
addArrow(marks, [184.8, 4.388], [184.8, 4.750], yPrice, CORAL, 1.5, 18);

addText(1416, 365, "上升通道", ORANGE, 28, "middle");
addText(1633, 576, "2024年5月31日收盘价4.79元", ORANGE, 28, "middle");
addText(2270, 427, "此区域时间是100周", YELLOW, 28, "middle");
addText(2828, 227, "6.30与5.91的连线", ORANGE, 28, "middle");
addText(3087, 253, "7.81与6.45的连线", GREEN, 28, "middle");
addText(3087, 305, "二个连续5周阴线", YELLOW, 28, "middle");
addText(2952, 559, "原始上升趋势线（4.01与4.36的连线）", CORAL, 30, "middle");
addText(30, 625, "4.01", "#ffffff", 24);
addText(1963, 103, "6.45", "#ffffff", 24);
svg.append("path").attr("d", "M14,628L4,622M4,622L10,622M4,622L7,630").attr("stroke", "#fff").attr("stroke-width", 1.5).attr("fill", "none");
svg.append("path").attr("d", "M1957,98L1936,90M1936,90L1944,90M1936,90L1940,98").attr("stroke", "#fff").attr("stroke-width", 1.5).attr("fill", "none");

svg.append("g").selectAll("rect").data(magentaBars).enter().append("rect")
  .attr("x", d => x(d) - 3).attr("y", 83).attr("width", 6).attr("height", 7).attr("fill", "#ff00ff");

const sMarks = svg.append("g").selectAll("g").data(sBars).enter().append("g")
  .attr("transform", d => `translate(${x(d)},0)`);
sMarks.append("path").attr("d", "M-3,640L3,640L0,634Z").attr("fill", "#ff0000");
sMarks.append("text").attr("y", 647).attr("text-anchor", "middle").attr("font-size", 23)
  .attr("font-weight", 700).attr("fill", "#ff0000").text("S");

// ---- volume
const vol = svg.append("g").attr("class", "volume");
vol.selectAll("rect").data(bars).enter().append("rect")
  .attr("x", i => x(i) - (volumeDir[i] === "r" ? 4 : 5))
  .attr("width", i => volumeDir[i] === "r" ? 8 : 10)
  .attr("y", i => yVol(volume[i]))
  .attr("height", i => yVol(-130) - yVol(volume[i]))
  .attr("fill", i => volumeDir[i] === "r" ? BG : CYAN)
  .attr("stroke", i => volumeDir[i] === "r" ? RED : "none")
  .attr("stroke-width", 3.6).attr("stroke-linejoin", "round");
addLine(svg, ma5, yVol, "#ffffff", 1.6);
addLine(svg, ma60, yVol, YELLOW, 2.6);

// ---- macd
svg.append("g").selectAll("rect").data(bars).enter().append("rect")
  .attr("x", i => x(i) - 1.3).attr("width", 2.6)
  .attr("y", i => macd[i] > 0 ? yMacd(macd[i]) : yMacd(0))
  .attr("height", i => Math.abs(yMacd(macd[i]) - yMacd(0)) + 1.5)
  .attr("fill", i => macd[i] > 0 ? RED : CYAN);
addLine(svg, dif, yMacd, "#ffffff", 2);
addLine(svg, dea, yMacd, YELLOW, 2.6);
addSeg(svg, [[-0.23, -0.128], [206.5, -0.128]], yMacd, CORAL, 4);
addArrow(svg, [176.8, 0.107], [174.8, -0.118], yMacd, YELLOW, 2, 16);
addArrow(svg, [181.8, 0.120], [191.7, -0.118], yMacd, YELLOW, 2.6, 16);
addArrow(svg, [187.7, 0.145], [201.8, -0.061], yMacd, YELLOW, 2.6, 16);
addText(2876, 1036, "二次底背离形态", YELLOW, 28, "middle");

// ---- kd
addLine(svg, kdK, yKd, "#ffffff", 1.6);
addLine(svg, kdD, yKd, YELLOW, 2.4);
addSeg(svg, [[-0.23, 9.4], [206.5, 9.4]], yKd, YELLOW, 3);
addArrow(svg, [177.7, 65.5], [172.96, 14.2], yKd, YELLOW, 2, 18);
addArrow(svg, [186.8, 64.4], [189.8, 18.4], yKd, YELLOW, 2, 18);
addArrow(svg, [189.8, 67.8], [201.8, 19.5], yKd, YELLOW, 2.4, 16);
addText(2911, 1236, "三次底背离形态", YELLOW, 28, "middle");

// ---- zbcd
addLine(svg, zbcd, yZbcd, "#ff0f80", 2);
svg.append("rect").attr("x", x(71) - 1.2).attr("y", 1584).attr("width", 2.4).attr("height", 12).attr("fill", "#ff0000");
svg.append("path").attr("d", `M${x(71) - 7},1586L${x(71)},1574L${x(71) + 7},1586Z`).attr("fill", "#ff0000");

// ---- xlpl
const stateColor = { p: "#ff8080", r: "#ff0000", g: "#00ff00", w: "#ffffff" };
svg.append("g").selectAll("line").data(bars.slice(1)).enter().append("line")
  .attr("x1", i => x(i - 1)).attr("y1", i => yXlpl(xlpl[i - 1]))
  .attr("x2", i => x(i)).attr("y2", i => yXlpl(xlpl[i]))
  .attr("stroke", i => stateColor[xlplState[i]])
  .attr("stroke-width", 5).attr("stroke-linecap", "round");

// ---- panel separators
[657, 968, 1172, 1596, 1740].forEach(y => {
  svg.append("line").attr("x1", 0).attr("x2", W).attr("y1", y).attr("y2", y)
    .attr("stroke", LINE).attr("stroke-width", 2);
});

// ---- right axes
const fmt2 = d3.format(".2f");
svg.append("line").attr("x1", AXIS_X).attr("x2", AXIS_X).attr("y1", 44).attr("y2", H - 8)
  .attr("stroke", LINE).attr("stroke-width", 2);
addYAxis(yPrice, priceTicks, fmt2);
addYAxis(yVol, [5000, 10000, 15000], d3.format("d"), [7500, 12500]);
addYAxis(yMacd, [0, 0.15], fmt2, [0.075]);
addYAxis(yKd, [20, 50, 80], fmt2);
addYAxis(yZbcd, [10], fmt2);
addYAxis(yXlpl, [10], fmt2);
svg.append("rect").attr("x", 3272).attr("y", 934).attr("width", 80).attr("height", 34)
  .attr("fill", "none").attr("stroke", LINE).attr("stroke-width", 2);
addText(3312, 950, "X1000", "#c4c4c4", 24, "middle");

// ---- panel titles
const addTitleRow = (y, parts, arrows) => {
  addChevron(13, y);
  parts.forEach(p => addText(p[0], y, p[1], p[2], 25));
  arrows.forEach(a => addDownArrow(a, y));
};
const TXT = "#ececec";
addTitleRow(675, [[34, "VOL-TDX(5,60)", TXT], [217, "VOLUME: 3970296", TXT], [459, "MA5: 4878247", TXT], [655, "MA60: 6254170", YELLOW]], [437, 634, 843]);
addTitleRow(985, [[34, "MACD(12,26,9)", TXT], [216, "DIF: -0.08", TXT], [357, "DEA: -0.08", YELLOW], [507, "MACD: -0.01", "#ff00ff"]], [336, 486, 661]);
addTitleRow(1189, [[34, "KD(9,3,3)", TXT], [149, "K: 17.60", TXT], [269, "D: 29.92", YELLOW]], [248, 371]);
addTitleRow(1371, [[34, "ZBCD(10)", TXT], [152, "抄底: -3.66", "#ff0f80"]], [280]);
addTitleRow(1613, [[34, "XLPL", TXT], [99, "吸: -", "#ff8080"], [154, "拉: -", "#ff0000"], [210, "派: -", "#00ff00"], [266, "落: -2.30", TXT]], [369]);

addText(3, 63, "京沪高铁(周线.前复权)", TXT, 24.5);
addChevron(266, 63);

// diamond + panel icon, top right of the price panel
svg.append("path").attr("d", "M3213,53L3224,65L3213,77L3202,65Z").attr("fill", "none").attr("stroke", "#555a66").attr("stroke-width", 2);
svg.append("rect").attr("x", 3241).attr("y", 55).attr("width", 22).attr("height", 20).attr("rx", 4)
  .attr("fill", "none").attr("stroke", "#777").attr("stroke-width", 2.5);
svg.append("rect").attr("x", 3253).attr("y", 58).attr("width", 6).attr("height", 14).attr("fill", "#888");

// ---- time axis
const xAxis = svg.append("g").attr("transform", "translate(0,1740)");
xAxis.append("g").call(d3.axisBottom(x).tickValues(bars).tickSize(6).tickFormat(""))
  .call(g => g.select(".domain").remove())
  .selectAll("line").attr("stroke", "#555a66").attr("stroke-width", 1.5);
const months = xAxis.append("g")
  .call(d3.axisBottom(x).tickValues(monthBars).tickSize(30).tickFormat((d, i) => monthNames[i]));
months.select(".domain").remove();
months.selectAll("line").attr("stroke", "#555a66").attr("stroke-width", 2);
months.selectAll("text").attr("x", 4).attr("y", 16).attr("dy", 0).attr("text-anchor", "start")
  .attr("fill", "#c4c4c4").attr("font-size", 24).style("font-family", '"Noto Sans CJK SC"');

svg.append("rect").attr("x", 3).attr("y", 1741).attr("width", 401).attr("height", 30).attr("fill", "#3b3f50");
addText(6, 1758, "2022/05/13/五 204 至今涨幅18.29%", "#ffffff", 24.6);
addText(3322, 1758, "周线", "#d8d8d8", 25, "middle");

// tab strip under the axis, cut by the window edge
const tabEdges = [82,145,234,298,371,428,496,577,625,673,739,862,916,1036,1164,1241,1325,1375,1445,1556,1668,1781,1861,1972,2072,2186,2396,2469,2549,2620,2689,2742,2810,2886,2958,3031,3102,3186,3271];
svg.append("rect").attr("x", 0).attr("y", 1773).attr("width", W).attr("height", 9).attr("fill", "#2b2e3a");
svg.append("g").selectAll("line").data(tabEdges).enter().append("line")
  .attr("x1", d => d).attr("x2", d => d).attr("y1", 1773).attr("y2", 1782)
  .attr("stroke", "#16181f").attr("stroke-width", 2);

// ---- toolbar
svg.append("rect").attr("x", 0).attr("y", 0).attr("width", W).attr("height", 44).attr("fill", "#2c2f3d");
svg.append("rect").attr("x", 0).attr("y", 0).attr("width", W).attr("height", 3).attr("fill", "#e8e8e8");
svg.append("line").attr("x1", 0).attr("x2", W).attr("y1", 44).attr("y2", 44).attr("stroke", "#15171d").attr("stroke-width", 2);
svg.append("rect").attr("x", 9).attr("y", 14).attr("width", 20).attr("height", 21).attr("rx", 4)
  .attr("fill", "none").attr("stroke", "#7d7d7d").attr("stroke-width", 2.5);
svg.append("rect").attr("x", 20).attr("y", 18).attr("width", 5).attr("height", 13).attr("fill", "#888");

const periodNames = ["分时","1分钟","5分钟","15分钟","30分钟","60分钟","日线","周线","月线","10分钟","45日线","季线","年线","5秒","15秒","多周期","更多 〉"];
const periodX = [54,120,199,277,369,461,556,621,689,757,848,941,1009,1083,1145,1211,1300];
svg.append("g").selectAll("text").data(periodNames).enter().append("text")
  .attr("x", (d, i) => periodX[i]).attr("y", 24).text(d => d)
  .attr("font-size", 24).attr("fill", d => d === "周线" ? "#e53a3a" : "#d4d4d4");

const toolNames = ["复权","叠加","多股","统计","画线","F10","标记","-自选","返回"];
const toolX = [2742,2810,2880,2950,3020,3090,3160,3230,3300];
const tools = svg.append("g");
tools.selectAll("line").data(toolX).enter().append("line")
  .attr("x1", d => d).attr("x2", d => d).attr("y1", 4).attr("y2", 44)
  .attr("stroke", "#1e2029").attr("stroke-width", 2);
tools.selectAll("text").data(toolNames).enter().append("text")
  .attr("x", (d, i) => toolX[i] + 12).attr("y", 24).text(d => d)
  .attr("font-size", d => d === "-自选" ? 22 : 24).attr("fill", "#d4d4d4");
</script>
</body>
</html>
